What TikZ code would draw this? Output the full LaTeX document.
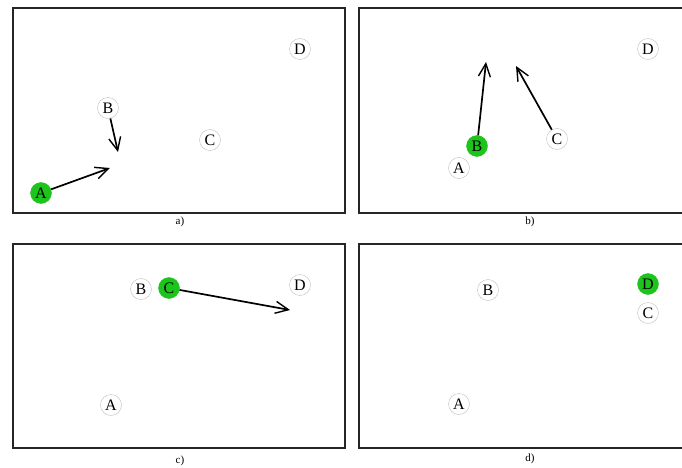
\documentclass[tikz,border=0pt]{standalone}
\usepackage{fontspec}
\setmainfont{Liberation Serif}
\usetikzlibrary{arrows.meta}
\definecolor{agentgreen}{RGB}{28,196,28}
\tikzset{
  agent/.style={circle, draw=black!25, fill=white, inner sep=0pt, minimum size=21pt,
    font=\fontsize{16}{16}\selectfont},
  active/.style={agent, draw=agentgreen, fill=agentgreen},
  move/.style={line width=1.7pt, -{Straight Barb[length=13pt,width=12pt,line width=1.4pt]}},
  frame/.style={line width=1.8pt, draw=black!85},
  caption/.style={font=\fontsize{11}{11}\selectfont},
}
\begin{document}
\begin{tikzpicture}[x=1pt,y=-1pt]
        \useasboundingbox[fill=white] (0,0) rectangle (682,468);
        % a)
        \draw[frame] (13,8) rectangle (345,213);
        \node[caption] (capa) at (180,222) {a)};
        \node[active] (aA) at (41,193) {A};
        \node[agent] (aB) at (108,108) {B};
        \node[agent] (aC) at (210,140) {C};
        \node[agent] (aD) at (300,49) {D};
        \coordinate (aAto) at (110,168);
        \coordinate (aBto) at (118,152);
        \draw[move] (aA) -- (aAto);
        \draw[move] (aB) -- (aBto);
        % b)
        \draw[frame] (359,8) rectangle (686,213);
        \node[caption] (capb) at (530,222) {b)};
        \node[agent] (bA) at (459,168) {A};
        \node[active] (bB) at (477,146) {B};
        \node[agent] (bC) at (557,139) {C};
        \node[agent] (bD) at (648,49) {D};
        \coordinate (bBto) at (486,62);
        \coordinate (bCto) at (516,66);
        \draw[move] (bB) -- (bBto);
        \draw[move] (bC) -- (bCto);
        % c)
        \draw[frame] (13,244) rectangle (345,448);
        \node[caption] (capc) at (180,461) {c)};
        \node[agent] (cA) at (111,405) {A};
        \node[agent] (cB) at (141,289) {B};
        \node[active] (cC) at (169,288) {C};
        \node[agent] (cD) at (300,285) {D};
        \coordinate (cCto) at (290,310);
        \draw[move] (cC) -- (cCto);
        % d)
        \draw[frame] (359,244) rectangle (686,448);
        \node[caption] (capd) at (530,459) {d)};
        \node[agent] (dA) at (459,404) {A};
        \node[agent] (dB) at (488,290) {B};
        \node[agent] (dC) at (648,313) {C};
        \node[active] (dD) at (648,284) {D};
    \end{tikzpicture}
\end{document}
